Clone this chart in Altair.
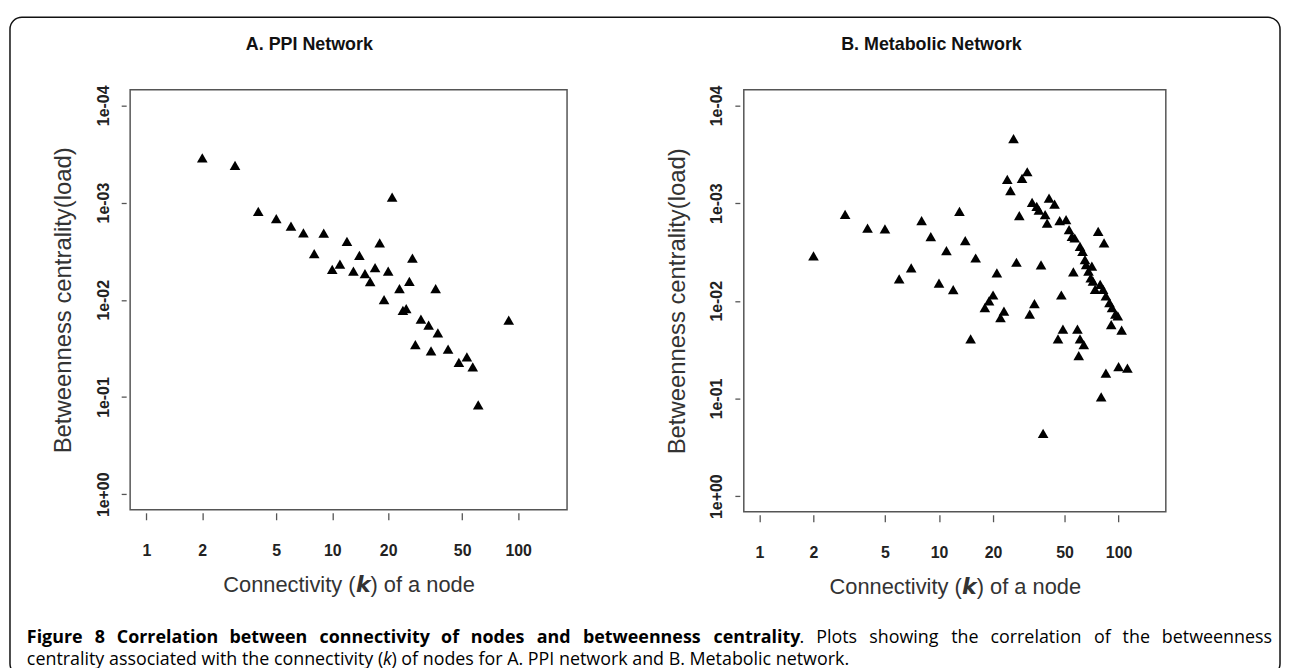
import altair as alt
import pandas as pd

# ---------------- data ----------------
ppi_k = [2, 3, 4, 5, 6, 7, 8, 9, 10, 11, 12, 13, 14, 15, 16, 17, 18, 19, 20, 21,
         23, 24, 25, 26, 27, 28, 30, 33, 34, 36, 37, 42, 48, 53, 57, 61, 89]
ppi_b = [3.6e-4, 4.3e-4, 1.28e-3, 1.52e-3, 1.81e-3, 2.12e-3, 3.48e-3, 2.14e-3, 5.05e-3, 4.45e-3,
         2.60e-3, 5.25e-3, 3.62e-3, 5.58e-3, 6.75e-3, 4.84e-3, 2.69e-3, 1.03e-2, 5.25e-3, 9.1e-4,
         7.96e-3, 1.33e-2, 1.28e-2, 6.70e-3, 3.86e-3, 2.99e-2, 1.64e-2, 1.89e-2, 3.47e-2, 7.96e-3,
         2.27e-2, 3.33e-2, 4.57e-2, 4.00e-2, 5.07e-2, 1.25e-1, 1.68e-2]

met_k = [2, 3, 4, 5, 6, 7, 8, 9, 10, 11, 12, 13, 14, 15, 16, 18, 19, 20, 21, 22,
         23, 24, 25, 26, 27, 28, 29, 31, 32, 33, 34, 35, 36, 37, 38, 39, 40, 41, 44, 46,
         47, 48, 49, 51, 53, 55, 56, 57, 59, 61, 64, 60, 61, 63, 65, 66, 68, 70, 71, 72,
         74, 77, 79, 83, 82, 85, 89, 92, 96, 99, 91, 104, 80, 85, 100, 112]
met_b = [3.60e-3, 1.35e-3, 1.87e-3, 1.90e-3, 6.17e-3, 4.78e-3, 1.57e-3, 2.29e-3, 6.82e-3, 3.18e-3,
         7.98e-3, 1.26e-3, 2.51e-3, 2.55e-2, 3.78e-3, 1.22e-2, 1.04e-2, 9.04e-3, 5.36e-3, 1.54e-2,
         1.32e-2, 5.93e-4, 7.73e-4, 2.27e-4, 4.18e-3, 1.39e-3, 5.79e-4, 4.95e-4, 1.42e-2, 1.02e-3,
         1.11e-2, 1.12e-3, 1.22e-3, 4.45e-3, 2.36e-1, 1.36e-3, 1.66e-3, 9.2e-4, 1.06e-3, 2.55e-2,
         1.57e-3, 9.04e-3, 2.02e-2, 1.53e-3, 1.94e-3, 2.27e-3, 5.24e-3, 2.36e-3, 2.02e-2, 2.55e-2,
         2.92e-2, 3.78e-2, 2.87e-3, 3.23e-3, 3.92e-3, 4.41e-3, 5.15e-3, 6.03e-3, 4.58e-3, 6.52e-3,
         7.91e-3, 2.02e-3, 7.03e-3, 2.65e-3, 7.91e-3, 9.25e-3, 1.08e-2, 1.22e-2, 1.42e-2, 1.48e-2,
         1.82e-2, 2.07e-2, 1.00e-1, 5.71e-2, 4.89e-2, 5.08e-2]

x_ticks = [1, 2, 5, 10, 20, 50, 100]
y_ticks = [1e-4, 1e-3, 1e-2, 1e-1, 1]

title_a = "A. PPI Network"
title_b = "B. Metabolic Network"
x_title = "Connectivity (\U0001D660) of a node"
y_title = "Betweenness centrality(load)"

# caption line 1 (justified): words, bold flag, approx. advance width in em
cap1_words = ["Figure", "8", "Correlation", "between", "connectivity", "of", "nodes", "and",
              "betweenness", "centrality", ".", "Plots", "showing", "the", "correlation",
              "of", "the", "betweenness"]
cap1_bold = [True] * 10 + [False] * 8
cap1_em = [3.117, 0.571, 5.615, 4.358, 6.103, 0.994, 3.018, 1.905, 6.612, 4.794,
           0.267, 2.295, 3.899, 1.527, 5.099, 0.938, 1.527, 6.191]
cap2_parts = ["centrality associated with the connectivity (", "k",
              ") of nodes for A. PPI network and B. Metabolic network."]

# ---------------- chart ----------------
X_DOMAIN = [10 ** -0.08705, 10 ** 2.26312]
Y_DOMAIN = [10 ** -4.16, 10 ** 0.16]
FONT = "Liberation Sans"


def points(k, b):
    df = pd.DataFrame({"k": k, "b": b})
    return alt.Chart(df).mark_point(
        shape="triangle", filled=True, color="black", size=115, opacity=1, strokeWidth=0
    ).encode(
        x=alt.X("k:Q", scale=alt.Scale(type="log", domain=X_DOMAIN, nice=False),
                axis=alt.Axis(values=x_ticks, grid=False, domain=False, tickSize=7, tickWidth=1.3,
                              tickColor="#555", offset=3, labelPadding=23, labelFont=FONT,
                              labelFontSize=16, labelFontWeight="bold", labelColor="#222",
                              labelFlush=False, labelOverlap=False, format="d",
                              title=x_title, titleFont=FONT, titleFontSize=22,
                              titleFontWeight="normal", titleColor="#333", titlePadding=16)),
        y=alt.Y("b:Q", scale=alt.Scale(type="log", domain=Y_DOMAIN, reverse=True, nice=False),
                axis=alt.Axis(values=y_ticks, grid=False, domain=False, tickSize=5, tickWidth=1.3,
                              tickColor="#555", offset=4, labelPadding=10, labelFont=FONT,
                              labelFontSize=16, labelFontWeight="bold", labelColor="#222",
                              labelAngle=270, labelAlign="center", labelBaseline="bottom",
                              labelFlush=False, labelOverlap=False,
                              labelExpr="'1e' + (datum.value < 0.5 ? '-0' + round(-log(datum.value)/LN10) : '+00')",
                              title=y_title, titleFont=FONT, titleFontSize=24,
                              titleFontWeight="normal", titleColor="#333", titlePadding=20)),
    )


def ptitle(t, dx):
    return alt.TitleParams(t, font=FONT, fontSize=18, fontWeight="bold", color="#111",
                           offset=31, anchor="middle", frame="bounds", dx=dx)


one = pd.DataFrame({"t": [0]})

pa = points(ppi_k, ppi_b).properties(
    width=440, height=423, title=ptitle(title_a, 0),
    view=alt.ViewBackground(stroke="#555", strokeWidth=1.5))

pb = points(met_k, met_b).properties(
    width=425, height=425, title=ptitle(title_b, 16),
    view=alt.ViewBackground(stroke="#555", strokeWidth=1.5))

# decoration cell (tiny, invisible view between the panels at page x=657.5, y=86):
# the figure frame and the caption are drawn in its pixel frame
OX, OY = 657.5, 86
border = alt.Chart(one).mark_rect(
    fill="white", fillOpacity=0, stroke="#111", strokeWidth=1.5, cornerRadius=12
).encode(x=alt.value(8 - OX), x2=alt.value(1287 - OX), y=alt.value(13 - OY), y2=alt.value(676 - OY))

# justified first caption line: word positions
FS = 18
LEFT, RIGHT = 25, 1280
adv = [e * FS * 1.005 for e in cap1_em]
gaps = [0 if w == "." else 1 for w in cap1_words[1:]]
natural = sum(adv) + sum(gaps) * 0.26 * FS
extra = (RIGHT - LEFT - natural) / sum(gaps)
xs, cur = [], LEFT
for i, w in enumerate(cap1_words):
    xs.append(cur)
    cur += adv[i]
    if i < len(gaps):
        cur += gaps[i] * (0.26 * FS + extra)
words = pd.DataFrame({"w": cap1_words, "x": [x - OX for x in xs], "bold": cap1_bold})


def word_layer(bold):
    return alt.Chart(words[words["bold"] == bold]).mark_text(
        font="Open Sans", fontSize=FS, fontWeight="bold" if bold else "normal", align="left",
        baseline="alphabetic", color="black"
    ).encode(x=alt.X("x:Q", scale=None), y=alt.value(643 - OY), text="w:N")


def cap_text(txt, x, y, style="normal"):
    return alt.Chart(one).mark_text(
        text=txt, font="Open Sans", fontSize=FS, fontStyle=style, align="left",
        baseline="alphabetic", color="black"
    ).encode(x=alt.value(x - OX), y=alt.value(y - OY))


pre_w = 19.993 * FS * 1.005 - 3
deco = alt.layer(
    border,
    word_layer(True),
    word_layer(False),
    cap_text(cap2_parts[0], LEFT, 665),
    cap_text(cap2_parts[1], LEFT + pre_w, 665, "italic"),
    cap_text(cap2_parts[2], LEFT + pre_w + 0.47 * FS, 665),
).properties(width=1, height=1, view=alt.ViewBackground(stroke="transparent"))

chart = alt.hconcat(pa, deco, pb, spacing=88.5, bounds="flush").properties(
    padding={"left": 0, "top": 5, "right": 0, "bottom": 0},
    background="white",
)

chart.save("out.html", embed_options={"renderer": "svg", "actions": False})
